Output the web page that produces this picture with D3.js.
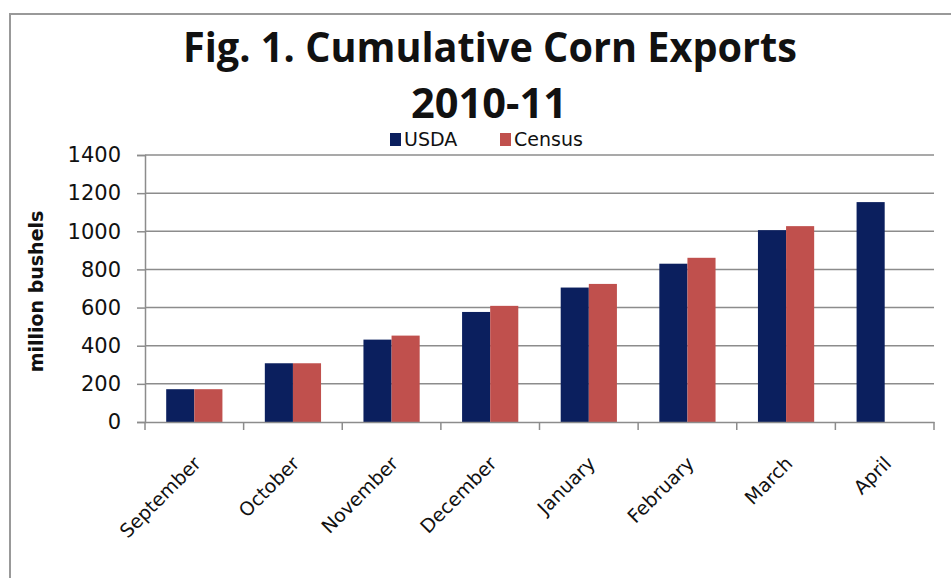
<!DOCTYPE html>
<html>
<head>
<meta charset="utf-8">
<script src="https://cdn.jsdelivr.net/npm/d3@7"></script>
<style>
  body { margin: 0; background: #fff; }
  svg { display: block; }
</style>
</head>
<body>
<script>
// Data
const months = ["September", "October", "November", "December", "January", "February", "March", "April"];
const seriesNames = ["USDA", "Census"];
const usda = [172, 308, 432, 577, 705, 830, 1006, 1153];
const census = [172, 308, 453, 609, 724, 861, 1027, null];
const yTicks = [0, 200, 400, 600, 800, 1000, 1200, 1400];
const colors = { USDA: "#0b1f5e", Census: "#c0504d" };

const width = 951, height = 578;
const plot = { left: 145, right: 934, top: 155, bottom: 422 };

const svg = d3.select("body").append("svg")
    .attr("width", width)
    .attr("height", height);

// outer frame
svg.append("path")
    .attr("d", "M10,578 L10,14 L951,14")
    .attr("fill", "none")
    .attr("stroke", "#999")
    .attr("stroke-width", 2);

// Scales
const x0 = d3.scaleBand().domain(months).range([plot.left, plot.right]);
const bw = x0.bandwidth();
const x1 = d3.scaleBand().domain(seriesNames).range([bw * 0.215, bw * 0.785]);
const y = d3.scaleLinear().domain([0, 1400]).range([plot.bottom, plot.top]);

// Gridlines
svg.append("g")
    .selectAll("line")
    .data(yTicks.slice(1))
    .join("line")
    .attr("x1", plot.left).attr("x2", plot.right)
    .attr("y1", d => y(d)).attr("y2", d => y(d))
    .attr("stroke", "#8c8c8c")
    .attr("stroke-width", 1.5);

// Bars
const rows = months.map((m, i) => ({ month: m, USDA: usda[i], Census: census[i] }));
svg.append("g")
    .selectAll("g")
    .data(rows)
    .join("g")
    .attr("transform", d => `translate(${x0(d.month)},0)`)
    .selectAll("rect")
    .data(d => seriesNames.filter(s => d[s] != null).map(s => ({ key: s, value: d[s] })))
    .join("rect")
    .attr("x", d => x1(d.key))
    .attr("width", x1.bandwidth())
    .attr("y", d => y(d.value))
    .attr("height", d => y(0) - y(d.value))
    .attr("fill", d => colors[d.key]);

// Y axis
const yAxis = svg.append("g")
    .attr("transform", `translate(${plot.left},0)`)
    .call(d3.axisLeft(y).tickValues(yTicks).tickFormat(d3.format("d")).tickSize(8).tickPadding(16));
yAxis.select(".domain").attr("stroke", "#8c8c8c").attr("stroke-width", 1.5);
yAxis.selectAll(".tick line").attr("stroke", "#8c8c8c").attr("stroke-width", 1.5);
yAxis.selectAll(".tick text")
    .attr("font-family", "DejaVu Sans, sans-serif")
    .attr("font-size", 21)
    .attr("fill", "#111");

// X axis
const xAxis = svg.append("g")
    .attr("transform", `translate(0,${plot.bottom})`)
    .call(d3.axisBottom(x0).tickSize(0).tickFormat(""));
xAxis.select(".domain").attr("stroke", "#8c8c8c").attr("stroke-width", 1.5);
xAxis.selectAll(".tick").remove();

// x tick marks at band edges
svg.append("g")
    .selectAll("line")
    .data(months.concat(["end"]))
    .join("line")
    .attr("x1", (d, i) => i < months.length ? x0(d) : plot.right)
    .attr("x2", (d, i) => i < months.length ? x0(d) : plot.right)
    .attr("y1", plot.bottom)
    .attr("y2", plot.bottom + 8)
    .attr("stroke", "#8c8c8c")
    .attr("stroke-width", 1.5);

// month labels
svg.append("g")
    .selectAll("text")
    .data(months)
    .join("text")
    .attr("transform", d => `translate(${x0(d) + bw / 2 + 3},${plot.bottom + 38}) rotate(-45)`)
    .attr("text-anchor", "end")
    .attr("dy", "0.35em")
    .attr("font-family", "DejaVu Sans, sans-serif")
    .attr("font-size", 19)
    .attr("fill", "#111")
    .text(d => d);

// Y axis title
svg.append("text")
    .attr("transform", `translate(43,${(plot.top + plot.bottom) / 2 + 3}) rotate(-90)`)
    .attr("text-anchor", "middle")
    .attr("font-family", "DejaVu Sans, sans-serif")
    .attr("font-weight", "bold")
    .attr("font-size", 19)
    .attr("fill", "#111")
    .text("million bushels");

// Title
const title = svg.append("g")
    .attr("font-family", "Open Sans, sans-serif")
    .attr("font-weight", "bold")
    .attr("fill", "#111")
    .attr("text-anchor", "middle");
title.append("text")
    .attr("x", 490).attr("y", 62)
    .attr("font-size", 41)
    .attr("textLength", 614)
    .attr("lengthAdjust", "spacingAndGlyphs")
    .text("Fig. 1. Cumulative Corn Exports");
title.append("text")
    .attr("x", 489).attr("y", 118)
    .attr("font-size", 41)
    .attr("textLength", 156)
    .attr("lengthAdjust", "spacingAndGlyphs")
    .text("2010-11");

// Legend
const legendX = [390, 500];
const legend = svg.append("g")
    .selectAll("g")
    .data(seriesNames)
    .join("g")
    .attr("transform", (d, i) => `translate(${legendX[i]},133)`);
legend.append("rect")
    .attr("width", 11).attr("height", 13)
    .attr("fill", d => colors[d]);
legend.append("text")
    .attr("x", 14).attr("y", 13)
    .attr("font-family", "DejaVu Sans, sans-serif")
    .attr("font-size", 19)
    .attr("fill", "#111")
    .text(d => d);
</script>
</body>
</html>
